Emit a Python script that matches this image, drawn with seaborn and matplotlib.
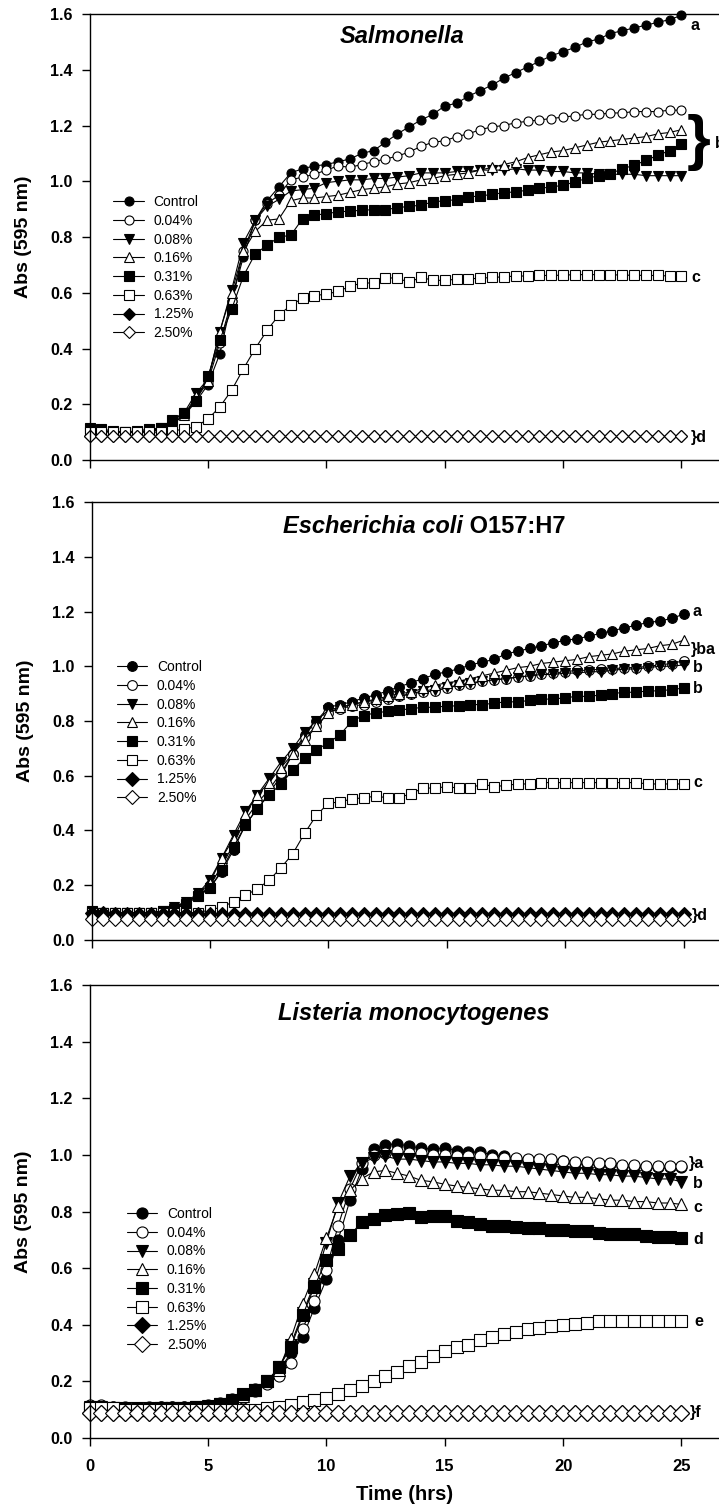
import numpy as np
import pandas as pd
import matplotlib
matplotlib.use('Agg')
import matplotlib.pyplot as plt
import seaborn as sns
from matplotlib.ticker import FormatStrFormatter

# time grid: one reading every 30 min, 0 - 25 h
hours = np.arange(0, 25.01, 0.5)
treatments = ['Control', '0.04%', '0.08%', '0.16%', '0.31%', '0.63%', '1.25%', '2.50%']

# ---- Salmonella ----
sal_control = [0.110, 0.105, 0.100, 0.100, 0.100, 0.105, 0.115, 0.140, 0.160, 0.210,
               0.270, 0.380, 0.570, 0.730, 0.860, 0.930, 0.980, 1.030, 1.045, 1.055,
               1.060, 1.070, 1.080, 1.100, 1.110, 1.140, 1.170, 1.195, 1.220, 1.240,
               1.270, 1.280, 1.305, 1.325, 1.345, 1.370, 1.390, 1.410, 1.430, 1.450,
               1.465, 1.480, 1.500, 1.510, 1.530, 1.540, 1.550, 1.560, 1.570, 1.580,
               1.595]
sal_004 = [0.110, 0.105, 0.100, 0.100, 0.100, 0.100, 0.110, 0.130, 0.160, 0.220,
           0.280, 0.420, 0.570, 0.750, 0.860, 0.920, 0.950, 1.005, 1.015, 1.025,
           1.040, 1.055, 1.050, 1.060, 1.070, 1.080, 1.090, 1.105, 1.125, 1.140,
           1.145, 1.160, 1.170, 1.185, 1.195, 1.200, 1.210, 1.215, 1.220, 1.225,
           1.230, 1.235, 1.240, 1.240, 1.245, 1.245, 1.250, 1.250, 1.250, 1.255,
           1.255]
sal_008 = [0.110, 0.105, 0.100, 0.100, 0.100, 0.105, 0.115, 0.140, 0.170, 0.240,
           0.290, 0.460, 0.610, 0.780, 0.860, 0.910, 0.935, 0.965, 0.970, 0.975,
           0.995, 1.000, 1.005, 1.005, 1.010, 1.010, 1.015, 1.020, 1.030, 1.030,
           1.030, 1.035, 1.035, 1.040, 1.040, 1.040, 1.045, 1.040, 1.040, 1.035,
           1.035, 1.030, 1.030, 1.025, 1.025, 1.025, 1.025, 1.020, 1.020, 1.020,
           1.020]
sal_016 = [0.110, 0.105, 0.100, 0.100, 0.100, 0.105, 0.110, 0.130, 0.160, 0.230,
           0.285, 0.460, 0.600, 0.750, 0.820, 0.860, 0.865, 0.930, 0.940, 0.940,
           0.945, 0.950, 0.960, 0.970, 0.975, 0.980, 0.990, 0.995, 1.005, 1.010,
           1.020, 1.025, 1.030, 1.040, 1.050, 1.060, 1.070, 1.085, 1.095, 1.105,
           1.110, 1.120, 1.130, 1.140, 1.145, 1.150, 1.155, 1.160, 1.170, 1.175,
           1.185]
sal_031 = [0.115, 0.110, 0.105, 0.100, 0.105, 0.110, 0.115, 0.145, 0.170, 0.210,
           0.300, 0.430, 0.540, 0.660, 0.740, 0.770, 0.800, 0.806, 0.866, 0.878,
           0.884, 0.890, 0.893, 0.896, 0.898, 0.898, 0.905, 0.910, 0.914, 0.926,
           0.930, 0.934, 0.944, 0.947, 0.953, 0.959, 0.962, 0.968, 0.974, 0.980,
           0.985, 0.998, 1.010, 1.020, 1.027, 1.045, 1.057, 1.075, 1.093, 1.110,
           1.133]
sal_063 = [0.100, 0.100, 0.100, 0.100, 0.100, 0.100, 0.100, 0.105, 0.110, 0.120,
           0.147, 0.190, 0.250, 0.327, 0.400, 0.465, 0.520, 0.555, 0.580, 0.590,
           0.595, 0.605, 0.623, 0.635, 0.635, 0.653, 0.653, 0.637, 0.656, 0.644,
           0.645, 0.648, 0.650, 0.652, 0.655, 0.657, 0.660, 0.660, 0.662, 0.662,
           0.663, 0.665, 0.665, 0.665, 0.665, 0.663, 0.663, 0.662, 0.662, 0.660,
           0.660]
sal_125 = [0.086, 0.086, 0.086, 0.086, 0.086, 0.086, 0.086, 0.086, 0.086, 0.086,
           0.086, 0.086, 0.086, 0.086, 0.086, 0.086, 0.086, 0.086, 0.086, 0.086,
           0.086, 0.086, 0.086, 0.086, 0.086, 0.086, 0.086, 0.086, 0.086, 0.086,
           0.086, 0.086, 0.086, 0.086, 0.086, 0.086, 0.086, 0.086, 0.086, 0.086,
           0.086, 0.086, 0.086, 0.086, 0.086, 0.086, 0.086, 0.086, 0.086, 0.086,
           0.086]
sal_250 = [0.085, 0.085, 0.085, 0.085, 0.085, 0.085, 0.085, 0.085, 0.085, 0.085,
           0.085, 0.085, 0.085, 0.085, 0.085, 0.085, 0.085, 0.085, 0.085, 0.085,
           0.085, 0.085, 0.085, 0.085, 0.085, 0.085, 0.085, 0.085, 0.085, 0.085,
           0.085, 0.085, 0.085, 0.085, 0.085, 0.085, 0.085, 0.085, 0.085, 0.085,
           0.085, 0.085, 0.085, 0.085, 0.085, 0.085, 0.085, 0.085, 0.085, 0.085,
           0.085]

# ---- Escherichia coli O157:H7 ----
eco_control = [0.100, 0.100, 0.100, 0.100, 0.100, 0.100, 0.105, 0.120, 0.140, 0.160,
               0.190, 0.250, 0.330, 0.420, 0.480, 0.535, 0.600, 0.680, 0.750, 0.800,
               0.850, 0.860, 0.870, 0.885, 0.895, 0.910, 0.925, 0.940, 0.955, 0.970,
               0.980, 0.990, 1.005, 1.015, 1.025, 1.045, 1.055, 1.065, 1.075, 1.085,
               1.095, 1.100, 1.110, 1.120, 1.130, 1.140, 1.150, 1.160, 1.165, 1.175,
               1.190]
eco_004 = [0.100, 0.100, 0.100, 0.100, 0.100, 0.100, 0.105, 0.120, 0.140, 0.160,
           0.200, 0.270, 0.350, 0.440, 0.500, 0.550, 0.610, 0.680, 0.740, 0.780,
           0.830, 0.845, 0.855, 0.860, 0.870, 0.880, 0.890, 0.900, 0.905, 0.910,
           0.920, 0.930, 0.935, 0.945, 0.950, 0.955, 0.960, 0.965, 0.970, 0.975,
           0.980, 0.985, 0.985, 0.990, 0.990, 0.995, 0.995, 1.000, 1.005, 1.010,
           1.020]
eco_008 = [0.100, 0.100, 0.100, 0.100, 0.100, 0.100, 0.105, 0.120, 0.140, 0.170,
           0.220, 0.300, 0.385, 0.470, 0.530, 0.590, 0.650, 0.700, 0.760, 0.800,
           0.840, 0.850, 0.860, 0.870, 0.875, 0.885, 0.890, 0.900, 0.910, 0.915,
           0.925, 0.930, 0.940, 0.945, 0.950, 0.955, 0.960, 0.965, 0.970, 0.970,
           0.975, 0.975, 0.980, 0.980, 0.985, 0.990, 0.990, 0.995, 1.000, 1.000,
           1.005]
eco_016 = [0.100, 0.100, 0.100, 0.100, 0.100, 0.100, 0.105, 0.115, 0.135, 0.165,
           0.210, 0.300, 0.370, 0.460, 0.530, 0.575, 0.630, 0.680, 0.730, 0.780,
           0.830, 0.850, 0.860, 0.870, 0.880, 0.890, 0.900, 0.905, 0.920, 0.930,
           0.940, 0.945, 0.955, 0.965, 0.975, 0.985, 0.995, 1.000, 1.010, 1.015,
           1.020, 1.025, 1.035, 1.040, 1.045, 1.055, 1.060, 1.065, 1.075, 1.080,
           1.095]
eco_031 = [0.105, 0.100, 0.100, 0.100, 0.100, 0.100, 0.105, 0.115, 0.130, 0.160,
           0.190, 0.255, 0.340, 0.420, 0.480, 0.530, 0.570, 0.620, 0.665, 0.695,
           0.720, 0.750, 0.800, 0.820, 0.830, 0.835, 0.840, 0.845, 0.850, 0.850,
           0.855, 0.855, 0.860, 0.860, 0.865, 0.870, 0.870, 0.875, 0.880, 0.880,
           0.885, 0.890, 0.890, 0.895, 0.900, 0.905, 0.905, 0.910, 0.910, 0.915,
           0.920]
eco_063 = [0.100, 0.100, 0.100, 0.100, 0.100, 0.100, 0.100, 0.100, 0.100, 0.100,
           0.110, 0.120, 0.140, 0.163, 0.187, 0.218, 0.264, 0.315, 0.390, 0.456,
           0.499, 0.505, 0.515, 0.520, 0.525, 0.520, 0.520, 0.535, 0.555, 0.555,
           0.560, 0.555, 0.555, 0.570, 0.560, 0.565, 0.570, 0.570, 0.575, 0.575,
           0.575, 0.575, 0.575, 0.575, 0.575, 0.575, 0.575, 0.570, 0.570, 0.570,
           0.570]
eco_125 = [0.097, 0.097, 0.096, 0.096, 0.096, 0.096, 0.096, 0.096, 0.096, 0.096,
           0.096, 0.096, 0.096, 0.096, 0.096, 0.096, 0.096, 0.096, 0.096, 0.096,
           0.096, 0.096, 0.096, 0.096, 0.096, 0.096, 0.096, 0.096, 0.096, 0.096,
           0.096, 0.096, 0.096, 0.096, 0.096, 0.096, 0.096, 0.096, 0.096, 0.096,
           0.096, 0.096, 0.096, 0.096, 0.096, 0.096, 0.096, 0.096, 0.096, 0.096,
           0.096]
eco_250 = [0.078, 0.078, 0.078, 0.078, 0.078, 0.078, 0.078, 0.078, 0.078, 0.078,
           0.078, 0.078, 0.078, 0.078, 0.078, 0.078, 0.078, 0.078, 0.078, 0.078,
           0.078, 0.078, 0.078, 0.078, 0.078, 0.078, 0.078, 0.078, 0.078, 0.078,
           0.078, 0.078, 0.078, 0.078, 0.078, 0.078, 0.078, 0.078, 0.078, 0.078,
           0.078, 0.078, 0.078, 0.078, 0.078, 0.078, 0.078, 0.078, 0.078, 0.078,
           0.078]

# ---- Listeria monocytogenes ----
lis_control = [0.110, 0.110, 0.108, 0.105, 0.105, 0.105, 0.108, 0.108, 0.108, 0.110,
               0.115, 0.125, 0.138, 0.156, 0.173, 0.200, 0.238, 0.300, 0.355, 0.460,
               0.560, 0.700, 0.840, 0.950, 1.020, 1.035, 1.040, 1.030, 1.025, 1.020,
               1.025, 1.015, 1.010, 1.010, 1.000, 0.995, 0.987, 0.982, 0.982, 0.982,
               0.977, 0.972, 0.972, 0.967, 0.967, 0.962, 0.962, 0.957, 0.957, 0.957,
               0.957]
lis_004 = [0.115, 0.115, 0.110, 0.110, 0.105, 0.110, 0.110, 0.108, 0.108, 0.108,
           0.110, 0.115, 0.125, 0.140, 0.165, 0.190, 0.220, 0.265, 0.385, 0.485,
           0.595, 0.750, 0.880, 0.970, 1.000, 1.005, 1.015, 1.005, 1.005, 1.000,
           1.000, 0.995, 0.995, 0.995, 0.990, 0.990, 0.990, 0.985, 0.985, 0.985,
           0.980, 0.975, 0.975, 0.970, 0.970, 0.965, 0.965, 0.960, 0.960, 0.960,
           0.960]
lis_008 = [0.110, 0.108, 0.105, 0.105, 0.105, 0.105, 0.105, 0.105, 0.105, 0.108,
           0.112, 0.120, 0.135, 0.150, 0.170, 0.200, 0.250, 0.330, 0.440, 0.545,
           0.690, 0.830, 0.925, 0.970, 0.990, 0.995, 0.985, 0.985, 0.980, 0.975,
           0.975, 0.970, 0.970, 0.965, 0.965, 0.960, 0.960, 0.955, 0.950, 0.945,
           0.940, 0.935, 0.935, 0.930, 0.930, 0.925, 0.925, 0.920, 0.915, 0.915,
           0.905]
lis_016 = [0.105, 0.105, 0.105, 0.100, 0.100, 0.100, 0.105, 0.105, 0.105, 0.105,
           0.110, 0.120, 0.130, 0.150, 0.170, 0.200, 0.240, 0.350, 0.475, 0.580,
           0.705, 0.820, 0.875, 0.916, 0.940, 0.945, 0.935, 0.925, 0.910, 0.905,
           0.896, 0.890, 0.885, 0.880, 0.875, 0.875, 0.870, 0.870, 0.865, 0.860,
           0.855, 0.850, 0.850, 0.845, 0.840, 0.840, 0.835, 0.835, 0.830, 0.830,
           0.825]
lis_031 = [0.105, 0.105, 0.105, 0.100, 0.100, 0.100, 0.105, 0.105, 0.105, 0.110,
           0.110, 0.120, 0.130, 0.155, 0.170, 0.200, 0.250, 0.320, 0.433, 0.535,
           0.627, 0.668, 0.716, 0.763, 0.775, 0.787, 0.790, 0.795, 0.780, 0.785,
           0.785, 0.765, 0.763, 0.755, 0.750, 0.750, 0.745, 0.740, 0.740, 0.735,
           0.735, 0.730, 0.730, 0.725, 0.720, 0.720, 0.720, 0.712, 0.710, 0.710,
           0.705]
lis_063 = [0.105, 0.105, 0.105, 0.100, 0.100, 0.100, 0.100, 0.100, 0.100, 0.100,
           0.100, 0.100, 0.100, 0.100, 0.100, 0.105, 0.111, 0.115, 0.126, 0.135,
           0.140, 0.155, 0.170, 0.185, 0.200, 0.218, 0.232, 0.254, 0.270, 0.289,
           0.307, 0.320, 0.330, 0.347, 0.355, 0.366, 0.376, 0.385, 0.390, 0.397,
           0.400, 0.402, 0.405, 0.412, 0.412, 0.415, 0.415, 0.415, 0.415, 0.412,
           0.415]
lis_125 = [0.090, 0.090, 0.090, 0.090, 0.090, 0.090, 0.090, 0.090, 0.090, 0.090,
           0.090, 0.090, 0.090, 0.090, 0.090, 0.090, 0.090, 0.090, 0.090, 0.090,
           0.090, 0.090, 0.090, 0.090, 0.090, 0.090, 0.090, 0.090, 0.090, 0.090,
           0.090, 0.090, 0.090, 0.090, 0.090, 0.090, 0.090, 0.090, 0.090, 0.090,
           0.090, 0.090, 0.090, 0.090, 0.090, 0.090, 0.090, 0.090, 0.090, 0.090,
           0.090]
lis_250 = [0.089, 0.089, 0.089, 0.089, 0.089, 0.089, 0.089, 0.089, 0.089, 0.089,
           0.089, 0.089, 0.089, 0.089, 0.089, 0.089, 0.089, 0.089, 0.089, 0.089,
           0.089, 0.089, 0.089, 0.089, 0.089, 0.089, 0.089, 0.089, 0.089, 0.089,
           0.089, 0.089, 0.089, 0.089, 0.089, 0.089, 0.089, 0.089, 0.089, 0.089,
           0.089, 0.089, 0.089, 0.089, 0.089, 0.089, 0.089, 0.089, 0.089, 0.089,
           0.089]

# significance letters (x in h, y in Abs, text)
sal_notes = [(25.4, 1.56, 'a'), (25.4, 0.655, 'c'), (25.4, 0.082, '}d'), (26.42, 1.135, 'b')]
eco_notes = [(25.4, 1.20, 'a'), (25.3, 1.06, '}ba'), (25.4, 0.995, 'b'),
             (25.4, 0.917, 'b'), (25.4, 0.575, 'c'), (25.35, 0.089, '}d')]
lis_notes = [(25.3, 0.97, '}a'), (25.5, 0.90, 'b'), (25.5, 0.815, 'c'), (25.5, 0.70, 'd'),
             (25.55, 0.41, 'e'), (25.35, 0.09, '}f')]

sns.set_style('ticks')
plt.rcParams['font.family'] = ['Liberation Sans', 'DejaVu Sans']
plt.rcParams.update({'text.color': 'black', 'axes.labelcolor': 'black',
                     'xtick.color': 'black', 'ytick.color': 'black',
                     'axes.edgecolor': 'black'})

markers = ['o', 'o', 'v', '^', 's', 's', 'D', 'D']
faces = ['black', 'white', 'black', 'white', 'black', 'white', 'black', 'white']

W, H = 719, 1508
fig = plt.figure(figsize=(W / 100, H / 100), dpi=100)


def add_panel(px_left, px_top, px_bottom, series, ms, leg_xy, notes):
    ax = fig.add_axes([px_left / W, 1 - px_bottom / H, 1 - px_left / W, (px_bottom - px_top) / H])
    for lab, vals, m, fc in zip(treatments, series, markers, faces):
        df = pd.DataFrame({'Time': hours, 'Abs': vals})
        sns.lineplot(data=df, x='Time', y='Abs', ax=ax, color='black', linewidth=0.8,
                     marker=m, markersize=ms, markerfacecolor=fc, markeredgecolor='black',
                     markeredgewidth=0.8, label=lab, errorbar=None, clip_on=False)
    ax.set_xlim(0, (W - px_left) / 23.68)
    ax.set_ylim(0, 1.6)
    ax.set_xticks([0, 5, 10, 15, 20, 25])
    ax.set_yticks([0.0, 0.2, 0.4, 0.6, 0.8, 1.0, 1.2, 1.4, 1.6])
    ax.yaxis.set_major_formatter(FormatStrFormatter('%.1f'))
    ax.set_xlabel('')
    ax.set_ylabel('')
    ax.spines['right'].set_visible(False)
    for s in ['top', 'left', 'bottom']:
        ax.spines[s].set_linewidth(1.0)
        ax.spines[s].set_color('black')
    ax.tick_params(axis='y', direction='out', length=6, width=1, pad=6, labelsize=11.5)
    ax.tick_params(axis='x', direction='out', length=6, width=1, pad=9, labelsize=12)
    for t in ax.get_yticklabels() + ax.get_xticklabels():
        t.set_fontweight('bold')
    handles, labs = ax.get_legend_handles_labels()
    ax.legend(handles, labs, loc='upper left', bbox_to_anchor=leg_xy, frameon=False,
              fontsize=10, handlelength=2.2, handletextpad=0.7, labelspacing=0.34,
              borderpad=0, borderaxespad=0)
    ax.text(-0.105, 0.5, 'Abs (595 nm)', transform=ax.transAxes, rotation=90,
            ha='center', va='center', fontsize=14, fontweight='bold')
    for x, y, txt in notes:
        ax.text(x, y, txt, ha='left', va='center', fontsize=11.5, fontweight='bold')
    return ax


ax1 = add_panel(89.5, 14, 460,
                [sal_control, sal_004, sal_008, sal_016, sal_031, sal_063, sal_125, sal_250],
                6.5, (0.038, 0.594), sal_notes)
ax1.text(13.2, 1.52, 'Salmonella', ha='center', va='center', fontsize=17,
         fontweight='bold', fontstyle='italic')
ax1.text(25.2, 1.14, '}', ha='left', va='center', fontsize=44, fontweight='bold')
ax1.set_xticklabels([])

ax2 = add_panel(91.5, 502, 940,
                [eco_control, eco_004, eco_008, eco_016, eco_031, eco_063, eco_125, eco_250],
                7, (0.04, 0.639), eco_notes)
t1 = ax2.text(8.1, 1.51, 'Escherichia coli', ha='left', va='center', fontsize=17,
              fontweight='bold', fontstyle='italic')
ax2.annotate(' O157:H7', xy=(1, 0.5), xycoords=t1, ha='left', va='center',
             fontsize=17, fontweight='bold')
ax2.set_xticklabels([])

ax3 = add_panel(89.5, 985, 1438,
                [lis_control, lis_004, lis_008, lis_016, lis_031, lis_063, lis_125, lis_250],
                8, (0.059, 0.51), lis_notes)
ax3.text(13.7, 1.50, 'Listeria monocytogenes', ha='center', va='center', fontsize=17,
         fontweight='bold', fontstyle='italic')
ax3.set_xlabel('Time (hrs)', fontsize=14.5, fontweight='bold', labelpad=8)

fig.savefig('out.png', dpi=100)
